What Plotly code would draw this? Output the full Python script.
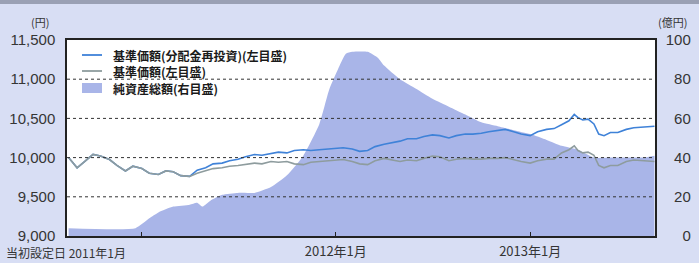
import plotly.graph_objects as go

# ---- data ----
nav_dates = [
    "2010-08-16", "2010-09-01", "2010-09-15", "2010-10-01", "2010-10-15", "2010-11-01", "2010-11-15",
    "2010-12-01", "2010-12-15", "2011-01-01", "2011-01-15", "2011-02-01", "2011-02-15", "2011-03-01",
    "2011-03-15", "2011-04-01", "2011-04-15", "2011-05-01", "2011-05-15", "2011-06-01", "2011-06-15",
    "2011-07-01", "2011-07-15", "2011-08-01", "2011-08-15", "2011-09-01", "2011-09-15", "2011-10-01",
    "2011-10-15", "2011-11-01", "2011-11-15", "2011-12-01", "2011-12-15", "2012-01-01", "2012-01-15",
    "2012-02-01", "2012-02-15", "2012-03-01", "2012-03-15", "2012-04-01", "2012-04-15", "2012-05-01",
    "2012-05-15", "2012-06-01", "2012-06-15", "2012-07-01", "2012-07-15", "2012-08-01", "2012-08-15",
    "2012-09-01", "2012-09-15", "2012-10-01", "2012-10-15", "2012-11-01", "2012-11-15", "2012-12-01",
    "2012-12-15", "2013-01-01", "2013-01-15", "2013-02-01", "2013-02-15", "2013-03-01", "2013-03-15",
    "2013-03-25", "2013-04-01", "2013-04-10", "2013-04-20", "2013-05-01", "2013-05-10", "2013-05-20",
    "2013-06-01", "2013-06-15", "2013-07-01", "2013-07-15", "2013-08-01", "2013-08-23",
]
nav_reinvested = [
    10000, 9870, 9950, 10040, 10020, 9975, 9900,
    9830, 9890, 9860, 9800, 9785, 9830, 9820,
    9770, 9760, 9840, 9870, 9920, 9930, 9960,
    9980, 10010, 10040, 10030, 10050, 10070, 10060,
    10090, 10100, 10090, 10100, 10110, 10120, 10125,
    10110, 10080, 10090, 10140, 10170, 10190, 10210,
    10240, 10240, 10270, 10290, 10280, 10250, 10280,
    10300, 10300, 10310, 10330, 10350, 10360, 10330,
    10300, 10280, 10330, 10360, 10370, 10420, 10470,
    10550, 10510, 10480, 10490, 10430, 10300, 10280,
    10320, 10320, 10360, 10380, 10390, 10400,
]
nav = [
    10000, 9870, 9950, 10040, 10020, 9975, 9900,
    9830, 9890, 9860, 9800, 9785, 9830, 9820,
    9770, 9760, 9800, 9830, 9860, 9870, 9890,
    9900, 9910, 9930, 9920, 9950, 9940, 9950,
    9920, 9910, 9940, 9950, 9960, 9970, 9975,
    9950, 9920, 9910, 9960, 9990, 9970, 9950,
    9970, 9960, 9990, 10020, 10010, 9960, 9980,
    9990, 9980, 9980, 9990, 9990, 10000, 9970,
    9950, 9930, 9960, 9980, 9980, 10060, 10100,
    10150, 10090, 10060, 10070, 10030, 9900, 9870,
    9900, 9900, 9950, 9970, 9960, 9950,
]

asset_dates = [
    "2010-08-16", "2010-12-20", "2011-01-15", "2011-02-01", "2011-03-01", "2011-04-01", "2011-04-15",
    "2011-04-25", "2011-05-10", "2011-06-01", "2011-07-01", "2011-08-01", "2011-09-01", "2011-10-01",
    "2011-11-01", "2011-12-01", "2011-12-20", "2012-01-05", "2012-01-20", "2012-02-01", "2012-03-01",
    "2012-03-20", "2012-04-01", "2012-05-01", "2012-06-01", "2012-07-01", "2012-08-01", "2012-09-01",
    "2012-10-01", "2012-11-01", "2012-12-01", "2013-01-01", "2013-02-01", "2013-03-01", "2013-04-01",
    "2013-05-01", "2013-06-01", "2013-07-01", "2013-08-01", "2013-08-23",
]
net_assets = [
    4, 4, 9, 12, 15, 16, 17,
    15, 18, 21, 22, 22, 25, 31,
    41, 57, 75, 85, 93, 94, 94,
    91, 87, 80, 75, 70, 66, 62,
    58, 56, 54, 52, 49, 46, 44,
    40, 40, 40, 40, 41,
]

series_names = ["基準価額(分配金再投資)(左目盛)", "基準価額(左目盛)", "純資産総額(右目盛)"]
series_colors = ["#3f82d8", "#8e9c9e", "#a9b5e8"]
tick_dates = ["2011-01-01", "2012-01-01", "2013-01-01"]
tick_labels = ["", "2012年1月", "2013年1月"]
first_label = "当初設定日 2011年1月"
left_ticks = [9000, 9500, 10000, 10500, 11000, 11500]
right_ticks = [0, 20, 40, 60, 80, 100]

FONT = "Noto Sans CJK JP"
NUMFONT = "Liberation Sans"
TXT = "#353535"
FSP = "\u2007"  # figure space for right-aligned right-axis labels

W, H = 699, 263
ML, MR, MT, MB = 67, 44, 40, 27
PW, PH = W - ML - MR, H - MT - MB


def px(x):
    return (x - ML) / PW


def py(y):
    return (H - MB - y) / PH


fig = go.Figure()
# area on the primary (right-side) axis so the lines on the overlaying axis are drawn above it
fig.add_trace(go.Scatter(
    x=asset_dates, y=net_assets, name=series_names[2], yaxis="y",
    mode="lines", line=dict(width=0, shape="spline", smoothing=0.5),
    fill="tozeroy", fillcolor=series_colors[2], showlegend=False,
))
fig.add_trace(go.Scatter(
    x=nav_dates, y=nav_reinvested, name=series_names[0], yaxis="y2", mode="lines",
    line=dict(color=series_colors[0], width=1.6), showlegend=False,
))
fig.add_trace(go.Scatter(
    x=nav_dates, y=nav, name=series_names[1], yaxis="y2", mode="lines",
    line=dict(color=series_colors[1], width=1.6), showlegend=False,
))

# dotted gridlines drawn over the area
for v in left_ticks[1:-1]:
    fig.add_shape(type="line", xref="paper", yref="y2", x0=0, x1=1, y0=v, y1=v,
                  line=dict(color="#333333", width=1, dash="dot"), layer="above")

# top stripe
fig.add_shape(type="rect", xref="paper", yref="paper", x0=px(-5), x1=px(W + 5), y0=py(4), y1=py(-2),
              fillcolor="#9aa0b4", line=dict(width=0), layer="below")

# legend drawn by hand (compact rows like the original)
leg_rows = [55, 71, 88]
for i, name in enumerate(series_names):
    yy = leg_rows[i]
    if i < 2:
        fig.add_shape(type="line", xref="paper", yref="paper", x0=px(82), x1=px(102),
                      y0=py(yy), y1=py(yy), line=dict(color=series_colors[i], width=1.8), layer="above")
    else:
        fig.add_shape(type="rect", xref="paper", yref="paper", x0=px(82), x1=px(102),
                      y0=py(yy + 5), y1=py(yy - 5), fillcolor=series_colors[i],
                      line=dict(width=0), layer="above")
    fig.add_annotation(text=name, x=px(111), xref="paper", xanchor="left",
                       y=py(yy), yref="paper", yanchor="middle", showarrow=False,
                       font=dict(family=FONT, size=12, color="#1a1a1a", weight="bold"))

fig.add_annotation(text=first_label, x=tick_dates[0], xref="x", xanchor="right", xshift=-14,
                   y=0, yref="paper", yanchor="top", yshift=-6, showarrow=False,
                   font=dict(family=FONT, size=12, color=TXT))
fig.add_annotation(text="(円)", x=px(51), xref="paper", xanchor="right",
                   y=py(22), yref="paper", yanchor="middle", showarrow=False,
                   font=dict(family=FONT, size=11, color=TXT))
fig.add_annotation(text="(億円)", x=px(689), xref="paper", xanchor="right",
                   y=py(22), yref="paper", yanchor="middle", showarrow=False,
                   font=dict(family=FONT, size=11, color=TXT))

fig.update_layout(
    width=W, height=H,
    margin=dict(l=ML, r=MR, t=MT, b=MB, autoexpand=False),
    paper_bgcolor="#d8def4", plot_bgcolor="white",
    font=dict(family=FONT, size=12, color=TXT),
    showlegend=False,
    xaxis=dict(
        type="date", range=["2010-08-13", "2013-08-24"], automargin=False,
        tickvals=tick_dates, ticktext=tick_labels,
        ticks="inside", ticklen=4, tickcolor="#222222",
        showgrid=False, showline=True, linecolor="#222222", linewidth=1.5, mirror=True,
        ticklabelstandoff=3,
        tickfont=dict(family=FONT, size=13, color=TXT),
    ),
    yaxis=dict(
        range=[0, 100], tickvals=right_ticks, side="right", automargin=False,
        ticktext=[FSP * (3 - len(str(v))) + str(v) for v in right_ticks],
        showgrid=False, showline=True, linecolor="#222222", linewidth=1.5,
        ticks="", ticklabelstandoff=6,
        tickfont=dict(family=NUMFONT, size=15, color=TXT), zeroline=False,
    ),
    yaxis2=dict(
        range=[9000, 11500], tickvals=left_ticks, overlaying="y", side="left", automargin=False,
        ticktext=[f"{v:,}" for v in left_ticks],
        showgrid=False, showline=True, linecolor="#222222", linewidth=1.5,
        ticks="", ticklabelstandoff=7,
        tickfont=dict(family=NUMFONT, size=15, color=TXT), zeroline=False,
    ),
)

fig.write_html(
    "out.html",
    config={"displayModeBar": False},
    post_script="document.body.style.margin='0';document.body.style.background='#d8def4';",
)
